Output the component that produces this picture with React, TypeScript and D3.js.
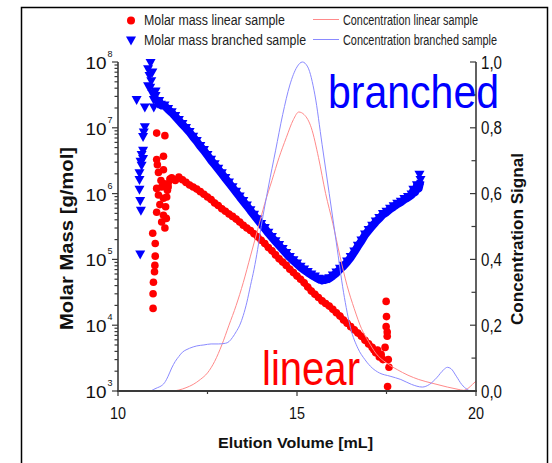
import React from "react";
import * as d3 from "d3";

// ---------- data ----------
// Elution volume [mL] , molar mass [g/mol]
const linearBand: [number, number][] = [
  [11.4, 1.26e6], [11.45, 1.66e6], [11.5, 1.74e6], [11.6, 1.58e6], [11.7, 1.78e6],
  [11.8, 1.62e6], [11.9, 1.48e6], [12.0, 1.35e6], [12.1, 1.26e6], [12.2, 1.17e6],
  [12.3, 1.07e6], [12.4, 9.8e5], [12.5, 8.9e5], [12.6, 8.1e5], [12.7, 7.2e5],
  [12.8, 6.6e5], [12.9, 5.9e5], [13.0, 5.4e5], [13.1, 4.9e5], [13.2, 4.5e5],
  [13.3, 4.1e5], [13.4, 3.7e5], [13.5, 3.3e5], [13.6, 3.0e5], [13.7, 2.75e5],
  [13.8, 2.45e5], [13.9, 2.2e5], [14.0, 1.95e5], [14.1, 1.74e5], [14.2, 1.51e5],
  [14.3, 1.35e5], [14.4, 1.17e5], [14.5, 1.02e5], [14.6, 9.1e4], [14.7, 8.1e4],
  [14.8, 7.1e4], [14.9, 6.3e4], [15.0, 5.6e4], [15.1, 5.0e4], [15.2, 4.4e4],
  [15.3, 3.8e4], [15.4, 3.3e4], [15.5, 2.95e4], [15.6, 2.63e4], [15.7, 2.34e4],
  [15.8, 2.14e4], [15.9, 1.95e4], [16.0, 1.74e4], [16.1, 1.55e4], [16.2, 1.38e4],
  [16.3, 1.2e4], [16.4, 1.07e4], [16.5, 9.5e3], [16.6, 8.5e3], [16.7, 7.6e3],
  [16.8, 6.8e3], [16.9, 5.9e3], [17.0, 5.2e3], [17.1, 4.6e3], [17.15, 4.2e3],
  [17.2, 3.8e3], [17.25, 4.2e3], [17.3, 3.3e3], [17.35, 3.6e3], [17.4, 3.0e3],
];

const linearScatter: [number, number][] = [
  [10.98, 1.8e4], [10.98, 3.0e4], [10.99, 4.5e4], [11.02, 6.5e4], [11.03, 8.1e4],
  [11.04, 1.12e5], [11.04, 1.74e5], [10.97, 2.5e5], [11.08, 8.3e6], [11.31, 7.6e6],
  [11.08, 3.3e6], [11.27, 3.7e6], [11.1, 2.75e6], [11.27, 2.3e6], [11.13, 2.1e6],
  [11.08, 1.2e6], [11.22, 1.26e6], [11.13, 9.5e5], [11.27, 8.5e5], [11.17, 6.8e5],
  [11.08, 5.2e5], [11.27, 4.7e5], [11.22, 3.7e5], [11.31, 3.0e5], [11.35, 4.2e5],
  [11.33, 6.3e5], [11.36, 8.9e5], [11.38, 1.12e6], [11.3, 1.41e6], [11.2, 1.58e6],
  [17.49, 2.3e4], [17.5, 1.35e4], [17.49, 9.5e3], [17.52, 7.9e3], [17.52, 6.8e3],
  [17.46, 4.6e3], [17.55, 3.0e3], [17.57, 2.3e3], [17.53, 1.17e3],
];

const branchedBand: [number, number][] = [
  [11.0, 2.6e7], [11.05, 3.0e7], [11.1, 2.3e7], [11.15, 2.5e7], [11.2, 2.2e7],
  [11.3, 2.15e7], [11.4, 1.9e7], [11.5, 1.7e7], [11.6, 1.48e7], [11.7, 1.29e7],
  [11.8, 1.12e7], [11.9, 9.8e6], [12.0, 8.5e6], [12.1, 7.2e6], [12.2, 6.2e6],
  [12.3, 5.2e6], [12.4, 4.5e6], [12.5, 3.8e6], [12.6, 3.2e6], [12.7, 2.75e6],
  [12.8, 2.35e6], [12.9, 2.0e6], [13.0, 1.7e6], [13.1, 1.45e6], [13.2, 1.23e6],
  [13.3, 1.05e6], [13.4, 8.9e5], [13.5, 7.6e5], [13.6, 6.5e5], [13.7, 5.5e5],
  [13.8, 4.7e5], [13.9, 4.0e5], [14.0, 3.4e5], [14.1, 2.95e5], [14.2, 2.5e5],
  [14.3, 2.15e5], [14.4, 1.86e5], [14.5, 1.62e5], [14.6, 1.41e5], [14.7, 1.23e5],
  [14.8, 1.07e5], [14.9, 9.5e4], [15.0, 8.5e4], [15.1, 7.6e4], [15.2, 6.9e4],
  [15.3, 6.3e4], [15.4, 5.8e4], [15.5, 5.4e4], [15.6, 5.0e4], [15.7, 4.8e4],
  [15.8, 4.9e4], [15.9, 5.1e4], [16.0, 5.6e4], [16.1, 6.2e4], [16.2, 7.1e4],
  [16.3, 7.9e4], [16.4, 9.1e4], [16.5, 1.07e5], [16.6, 1.29e5], [16.7, 1.58e5],
  [16.8, 1.9e5], [16.9, 2.35e5], [17.0, 2.75e5], [17.1, 3.2e5], [17.2, 3.7e5],
  [17.3, 4.2e5], [17.4, 4.8e5], [17.5, 5.2e5], [17.6, 5.8e5], [17.7, 6.3e5],
  [17.8, 6.9e5], [17.9, 7.4e5], [18.0, 8.1e5], [18.1, 8.7e5], [18.2, 9.5e5],
  [18.25, 1.12e6], [18.3, 1.05e6], [18.35, 1.32e6], [18.4, 1.2e6], [18.45, 1.58e6],
  [18.42, 1.9e6],
];

const branchedScatter: [number, number][] = [
  [10.91, 9.5e7], [10.84, 7.6e7], [10.96, 6.8e7], [10.88, 6.0e7], [10.84, 4.2e7],
  [10.9, 4.0e7], [10.93, 5.0e7], [10.96, 3.2e7], [10.52, 2.6e7], [10.75, 2.0e7],
  [10.75, 1.0e7], [10.72, 8.3e6], [10.7, 7.1e6], [10.7, 4.4e6], [10.66, 3.8e6],
  [10.7, 3.3e6], [10.63, 3.0e6], [10.66, 2.6e6], [10.6, 2.0e6], [10.6, 1.58e6],
  [10.6, 1.12e6], [10.62, 7.6e5], [10.64, 5.4e5], [10.62, 1.17e5], [11.0, 2.0e7],
  [11.05, 3.5e7],
];

// Elution volume [mL] , concentration signal
const concLinear: [number, number][] = [
  [10.0, 0], [11.5, 0], [11.7, 0.003], [11.9, 0.01], [12.1, 0.02], [12.3, 0.035],
  [12.5, 0.055], [12.7, 0.09], [12.9, 0.14], [13.1, 0.2], [13.3, 0.26], [13.5, 0.33],
  [13.7, 0.41], [13.9, 0.49], [14.1, 0.57], [14.3, 0.64], [14.5, 0.71], [14.7, 0.77],
  [14.9, 0.825], [15.05, 0.848], [15.2, 0.84], [15.4, 0.8], [15.6, 0.71], [15.8, 0.6],
  [16.0, 0.51], [16.2, 0.41], [16.4, 0.32], [16.6, 0.25], [16.8, 0.19], [17.0, 0.15],
  [17.2, 0.115], [17.5, 0.085], [17.8, 0.065], [18.1, 0.048], [18.4, 0.035],
  [18.8, 0.023], [19.2, 0.012], [19.5, 0.005], [19.65, 0.002], [19.8, 0.01],
  [19.9, 0.02], [20.0, 0.03],
];

const concBranched: [number, number][] = [
  [10.0, 0], [10.9, 0], [11.0, 0.005], [11.1, 0.01], [11.2, 0.015], [11.3, 0.025],
  [11.4, 0.045], [11.5, 0.07], [11.6, 0.09], [11.7, 0.105], [11.8, 0.118], [11.9, 0.125],
  [12.0, 0.13], [12.2, 0.137], [12.4, 0.14], [12.6, 0.143], [12.8, 0.143], [13.0, 0.145],
  [13.1, 0.15], [13.2, 0.163], [13.3, 0.18], [13.4, 0.2], [13.5, 0.23], [13.6, 0.27],
  [13.7, 0.32], [13.8, 0.37], [13.9, 0.43], [14.0, 0.5], [14.2, 0.62], [14.4, 0.73],
  [14.6, 0.84], [14.8, 0.93], [15.0, 0.985], [15.15, 1.0], [15.3, 0.985], [15.5, 0.9],
  [15.7, 0.75], [15.9, 0.6], [16.1, 0.45], [16.3, 0.3], [16.5, 0.19], [16.7, 0.13],
  [16.9, 0.095], [17.1, 0.07], [17.3, 0.055], [17.6, 0.045], [17.9, 0.035], [18.2, 0.02],
  [18.5, 0.012], [18.7, 0.02], [18.9, 0.04], [19.1, 0.065], [19.2, 0.072], [19.3, 0.068],
  [19.45, 0.045], [19.6, 0.02], [19.75, 0.005], [19.85, 0], [20.0, 0],
];

const xTickValues = [10, 15, 20];
const xMinorValues = [12.5, 17.5];
const massDecades = [3, 4, 5, 6, 7, 8];
const concTickValues = [0, 0.2, 0.4, 0.6, 0.8, 1.0];
const concTickLabels = ["0,0", "0,2", "0,4", "0,6", "0,8", "1,0"];
const concMinorValues = [0.1, 0.3, 0.5, 0.7, 0.9];

const legendItems = [
  "Molar mass linear sample",
  "Molar mass branched sample",
  "Concentration linear sample",
  "Concentration branched sample",
];

// ---------- chart ----------
const RED = "#ff0000";
const BLUE = "#0000ff";
const AXIS = "#3a3a3a";
const FONT = "'Liberation Sans', Arial, sans-serif";
const TRI = "M-5,-4.5L5,-4.5L0,4.5Z";

export default function App() {
  const x = d3.scaleLinear().domain([10, 20]).range([118, 476]);
  const yM = d3.scaleLog().domain([1e3, 1e8]).range([391, 62]);
  const yC = d3.scaleLinear().domain([0, 1]).range([391, 62]);

  const massTicks = yM.ticks();
  const line = d3
    .line<[number, number]>()
    .x((d) => x(d[0]))
    .y((d) => yC(d[1]))
    .curve(d3.curveMonotoneX);
  const bandLine = d3
    .line<[number, number]>()
    .x((d) => x(d[0]))
    .y((d) => yM(d[1]));

  const redPts = [...linearScatter, ...linearBand];
  const bluePts = [...branchedScatter, ...branchedBand];

  return (
    <svg
      width={552}
      height={463}
      style={{ position: "absolute", left: 0, top: 0, background: "#fff" }}
      fontFamily={FONT}
    >
      <rect x={0} y={0} width={552} height={463} fill="#fff" />
      {/* outer frame */}
      <path d="M21.5,470V7.5H547.5V470" fill="none" stroke="#000" strokeWidth={1.5} />

      {/* markers */}
      <path d={bandLine(linearBand) || ""} fill="none" stroke={RED} strokeWidth={6} strokeLinejoin="round" />
      {redPts.map((d, i) => (
        <circle key={"r" + i} cx={x(d[0])} cy={yM(d[1])} r={3.8} fill={RED} />
      ))}
      <path d={bandLine(branchedBand.slice(2, branchedBand.length - 1)) || ""} fill="none" stroke={BLUE} strokeWidth={8} strokeLinejoin="round" />
      {bluePts.map((d, i) => (
        <path key={"b" + i} d={TRI} transform={`translate(${x(d[0])},${yM(d[1])})`} fill={BLUE} />
      ))}

      {/* concentration lines */}
      <path d={line(concLinear) || ""} fill="none" stroke="#ff8a8a" strokeWidth={1} />
      <path d={line(concBranched) || ""} fill="none" stroke="#8a8aff" strokeWidth={1} />

      {/* axes lines */}
      <line x1={118} x2={118} y1={yM(1e8)} y2={yM(1e3)} stroke={AXIS} strokeWidth={1.6} />
      <line x1={476} x2={476} y1={yC(1)} y2={yC(0)} stroke={AXIS} strokeWidth={1.6} />
      <line x1={117} x2={477} y1={391} y2={391} stroke={AXIS} strokeWidth={1.8} />

      {/* left log ticks */}
      {massTicks.map((t, i) => {
        const major = Math.abs(Math.log10(t) - Math.round(Math.log10(t))) < 1e-9;
        return (
          <line key={"mt" + i} x1={118} x2={major ? 112 : 114.5} y1={yM(t)} y2={yM(t)} stroke={AXIS} strokeWidth={1.2} />
        );
      })}
      {massDecades.map((d) => (
        <g key={"ml" + d}>
          <text x={106.5} y={yM(Math.pow(10, d)) + 7} fontSize={17} textAnchor="end" fill="#111" textLength={21} lengthAdjust="spacingAndGlyphs">
            10
          </text>
          <text x={107.5} y={yM(Math.pow(10, d)) - 5} fontSize={9} fill="#111">
            {d}
          </text>
        </g>
      ))}

      {/* right ticks */}
      {concTickValues.map((t, i) => (
        <g key={"ct" + i}>
          <line x1={476} x2={470} y1={yC(t)} y2={yC(t)} stroke={AXIS} strokeWidth={1.2} />
          <text x={481} y={yC(t) + 6.5} fontSize={18} fill="#111" textLength={21} lengthAdjust="spacingAndGlyphs">
            {concTickLabels[i]}
          </text>
        </g>
      ))}
      {concMinorValues.map((t, i) => (
        <line key={"cm" + i} x1={476} x2={471.5} y1={yC(t)} y2={yC(t)} stroke={AXIS} strokeWidth={1.2} />
      ))}

      {/* bottom ticks */}
      {xTickValues.map((t) => (
        <g key={"xt" + t}>
          <line x1={x(t)} x2={x(t)} y1={391} y2={396} stroke={AXIS} strokeWidth={1.2} />
          <text x={x(t)} y={419} fontSize={17} textAnchor="middle" fill="#111" textLength={16} lengthAdjust="spacingAndGlyphs">
            {t}
          </text>
        </g>
      ))}
      {xMinorValues.map((t) => (
        <line key={"xm" + t} x1={x(t)} x2={x(t)} y1={391} y2={394} stroke={AXIS} strokeWidth={1.2} />
      ))}

      {/* axis titles */}
      <text x={295.5} y={448} fontSize={15} fontWeight="bold" textAnchor="middle" fill="#111" textLength={155} lengthAdjust="spacingAndGlyphs">
        Elution Volume [mL]
      </text>
      <text transform="translate(73,238.5) rotate(-90)" fontSize={18} fontWeight="bold" textAnchor="middle" fill="#111" textLength={183} lengthAdjust="spacingAndGlyphs">
        Molar Mass [g/mol]
      </text>
      <text transform="translate(523,239) rotate(-90)" fontSize={16} fontWeight="bold" textAnchor="middle" fill="#111" textLength={172} lengthAdjust="spacingAndGlyphs">
        Concentration Signal
      </text>

      {/* legend */}
      <circle cx={131} cy={20.5} r={4} fill={RED} />
      <path d={TRI} transform="translate(131,41)" fill={BLUE} />
      <text x={144} y={25} fontSize={14} fill="#222" textLength={141} lengthAdjust="spacingAndGlyphs">
        {legendItems[0]}
      </text>
      <text x={144} y={45} fontSize={14} fill="#222" textLength={162} lengthAdjust="spacingAndGlyphs">
        {legendItems[1]}
      </text>
      <line x1={313} x2={339} y1={19.5} y2={19.5} stroke="#ff8a8a" strokeWidth={1} />
      <line x1={313} x2={339} y1={39.5} y2={39.5} stroke="#8a8aff" strokeWidth={1} />
      <text x={343} y={25} fontSize={14} fill="#222" textLength={135} lengthAdjust="spacingAndGlyphs">
        {legendItems[2]}
      </text>
      <text x={343} y={45} fontSize={14} fill="#222" textLength={154} lengthAdjust="spacingAndGlyphs">
        {legendItems[3]}
      </text>

      {/* annotations */}
      <text x={328} y={108} fontSize={46} fill={BLUE} textLength={171} lengthAdjust="spacingAndGlyphs">
        branched
      </text>
      <text x={262} y={385} fontSize={48} fill={RED} textLength={98} lengthAdjust="spacingAndGlyphs">
        linear
      </text>
    </svg>
  );
}
